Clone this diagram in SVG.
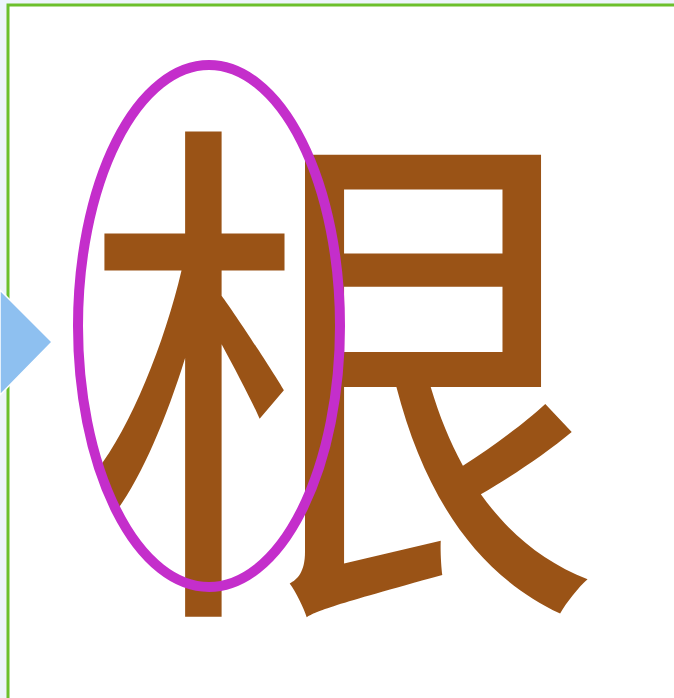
<svg xmlns="http://www.w3.org/2000/svg" width="674" height="698" viewBox="0 0 674 698">
<style>
.glyph{font-family:"Noto Sans CJK SC","Noto Sans CJK JP",serif;fill:#9a5316}
.frame{fill:none;stroke:#6cc02c;stroke-width:3}
</style>
<rect x="0" y="0" width="674" height="698" fill="#eef5fb"/>
<rect x="8" y="5" width="680" height="710" fill="#ffffff"/>
<path class="frame" d="M8,698 V5 H674"/>
<g id="arrow">
<polygon points="0,290 52,342 0,395" fill="#8ec0f0" stroke="#ffffff" stroke-width="1.5"/>
</g>
<g id="character">
<text class="glyph" x="342" y="575" font-size="528" text-anchor="middle">根</text>
</g>
<g id="highlight">
<ellipse cx="209" cy="326" rx="131" ry="261" fill="none" stroke="#c42ecb" stroke-width="10"/>
</g>
</svg>
